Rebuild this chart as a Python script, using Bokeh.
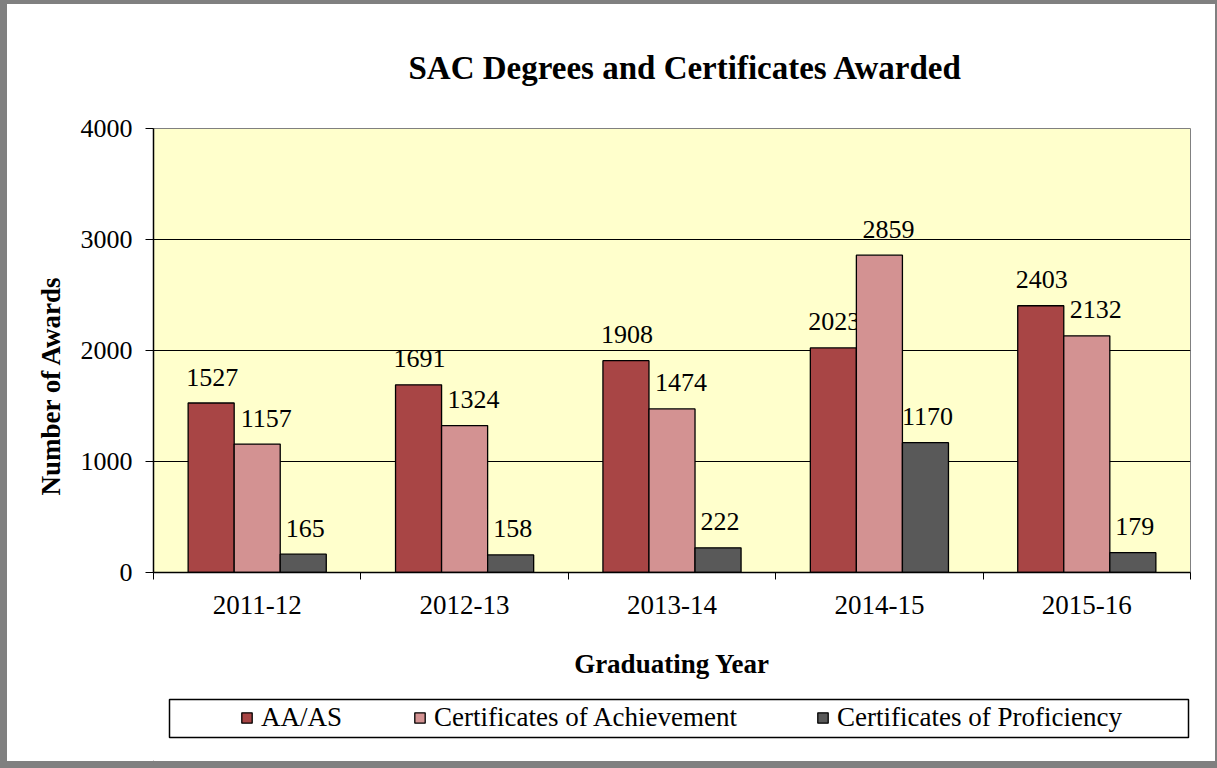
from bokeh.plotting import figure
from bokeh.models import (ColumnDataSource, Range1d, FixedTicker, Legend,
                          LegendItem, BoxAnnotation, Title)
from bokeh.layouts import column
from bokeh.transform import dodge
from bokeh.core.properties import value
from bokeh.embed import file_html
from bokeh.resources import INLINE

# ---- data ----
years = ["2011-12", "2012-13", "2013-14", "2014-15", "2015-16"]
aa_as = [1527, 1691, 1908, 2023, 2403]
cert_achievement = [1157, 1324, 1474, 2859, 2132]
cert_proficiency = [165, 158, 222, 1170, 179]
series_names = ["AA/AS", "Certificates of Achievement", "Certificates of Proficiency"]
series_colors = ["#A84545", "#D39292", "#595959"]
y_ticks = [0, 1000, 2000, 3000, 4000]

FONT = "Liberation Serif"
# gray page border (left, top, right, bottom)
PL, PT, PR, PB = 7, 4, 2, 7
W = 1217 - PL - PR
SPLIT = 686                       # page y where the legend strip starts
H_MAIN = SPLIT - PT
H_LEG = 768 - PB - SPLIT

# frame in page pixels (reference): left 153, right 1190, top 128, bottom 572
FL, FR, FT, FB = 153 - PL, 1190 - PL, 128 - PT, 572 - PT

centers = [i + 0.5 for i in range(len(years))]
src = ColumnDataSource(dict(
    x=centers, years=years,
    aa=aa_as, ach=cert_achievement, prof=cert_proficiency,
    aa_t=[str(v) for v in aa_as],
    ach_t=[str(v) for v in cert_achievement],
    prof_t=[str(v) for v in cert_proficiency],
))

p = figure(width=W, height=H_MAIN, output_backend="svg", toolbar_location=None,
           x_range=Range1d(0, len(years)), y_range=Range1d(0, 4000),
           min_border_left=FL, min_border_right=W - FR, min_border_top=FT,
           min_border_bottom=H_MAIN - FB, title=None)

p.background_fill_color = "#FFFFCC"
p.border_fill_color = "white"
p.outline_line_color = "#808080"
p.outline_line_width = 1

# title
title = Title(text="SAC Degrees and Certificates Awarded", align="left", offset=255,
              text_font=FONT, text_font_size="33px", text_font_style="bold",
              text_color="black", standoff=85)
p.add_layout(title, "above")

bw = 0.222
cols = ["aa", "ach", "prof"]
texts = ["aa_t", "ach_t", "prof_t"]
offs = [-bw, 0.0, bw]
xoffs = [1, 9, 2]
renderers = []
for c, t, o, xo, color in zip(cols, texts, offs, xoffs, series_colors):
    r = p.vbar(x=dodge("x", o, range=p.x_range), top=c, width=bw, source=src,
               fill_color=color, line_color="black", line_width=1.3)
    renderers.append(r)
    p.text(x=dodge("x", o, range=p.x_range), y=c, text=t, source=src,
           text_align="center", text_baseline="alphabetic", y_offset=-26, x_offset=xo,
           text_font=value(FONT), text_font_size="26px", text_color="black")

# grid
p.xgrid.grid_line_color = None
p.ygrid.grid_line_color = "black"
p.ygrid.grid_line_width = 1
p.ygrid.ticker = FixedTicker(ticks=y_ticks)

# y axis
p.yaxis.ticker = FixedTicker(ticks=y_ticks)
p.yaxis.axis_line_color = "black"
p.yaxis.axis_line_width = 1.5
p.yaxis.major_tick_in = 0
p.yaxis.major_tick_out = 8
p.yaxis.minor_tick_line_color = None
p.yaxis.major_label_text_font = FONT
p.yaxis.major_label_text_font_size = "26px"
p.yaxis.major_label_text_color = "black"
p.yaxis.major_label_standoff = 13

# y axis label as a left-side title (sits below centre like reference)
ylab = Title(text="Number of Awards", align="left", offset=77,
             text_font=FONT, text_font_size="27px", text_font_style="bold",
             text_color="black", standoff=24)
p.add_layout(ylab, "left")

# x axis: labels at centers, ticks between categories
p.xaxis.ticker = FixedTicker(ticks=centers, minor_ticks=list(range(len(years) + 1)))
p.xaxis.major_label_overrides = {c: y for c, y in zip(centers, years)}
p.xaxis.major_tick_line_color = None
p.xaxis.major_tick_in = 0
p.xaxis.major_tick_out = 7
p.xaxis.minor_tick_in = 0
p.xaxis.minor_tick_out = 7
p.xaxis.minor_tick_line_color = "black"
p.xaxis.axis_line_color = "black"
p.xaxis.axis_line_width = 1.5
p.xaxis.major_label_text_font = FONT
p.xaxis.major_label_text_font_size = "27px"
p.xaxis.major_label_text_color = "black"
p.xaxis.major_label_standoff = 16
p.xaxis.axis_label = "Graduating Year"
p.xaxis.axis_label_text_font = FONT
p.xaxis.axis_label_text_font_size = "27px"
p.xaxis.axis_label_text_font_style = "bold"
p.xaxis.axis_label_text_color = "black"
p.xaxis.axis_label_standoff = 32

# ---- legend strip (data units = page pixels; y runs top-down) ----
LEG_TOP = SPLIT
LEG_BOT = SPLIT + H_LEG
leg = figure(width=W, height=H_LEG, output_backend="svg", toolbar_location=None,
             x_range=Range1d(FL + PL, FR + PL), y_range=Range1d(LEG_BOT, LEG_TOP),
             x_axis_location=None, y_axis_location=None,
             min_border_left=FL, min_border_right=W - FR, min_border_top=0,
             min_border_bottom=0)
leg.xgrid.grid_line_color = None
leg.ygrid.grid_line_color = None
leg.outline_line_color = None
leg.background_fill_color = "white"
leg.border_fill_color = "white"

# stand-in renderers (zero-size bars outside the visible range) for legend swatches
dummy = [leg.vbar(x=[0], top=[LEG_BOT], bottom=[LEG_BOT], width=1, fill_color=c,
                  line_color="black", line_width=1.3)
         for c in series_colors]
item_x = [240, 413, 816]
item_cy = 718
for name, r, xpos in zip(series_names, dummy, item_x):
    lg = Legend(items=[LegendItem(label=name, renderers=[r])],
                location=(xpos - (FL + PL), (LEG_BOT - item_cy) - 15),
                orientation="horizontal",
                padding=0, margin=0, glyph_width=13, glyph_height=13,
                label_standoff=8, label_text_font=FONT, label_text_font_size="27px",
                label_text_color="black", label_height=30,
                border_line_color=None, background_fill_alpha=0)
    leg.add_layout(lg, "center")

leg.add_layout(BoxAnnotation(left=169, right=1188, top=699, bottom=737,
                             fill_color=None, line_color="black", line_alpha=1.0,
                             line_width=1.5))

inner = column(p, leg, spacing=0, styles={"background-color": "white"})
layout = column(inner, styles={"padding": f"{PT}px {PR}px {PB}px {PL}px",
                               "background-color": "#808080"})

open("out.html", "w").write(file_html(layout, INLINE))
